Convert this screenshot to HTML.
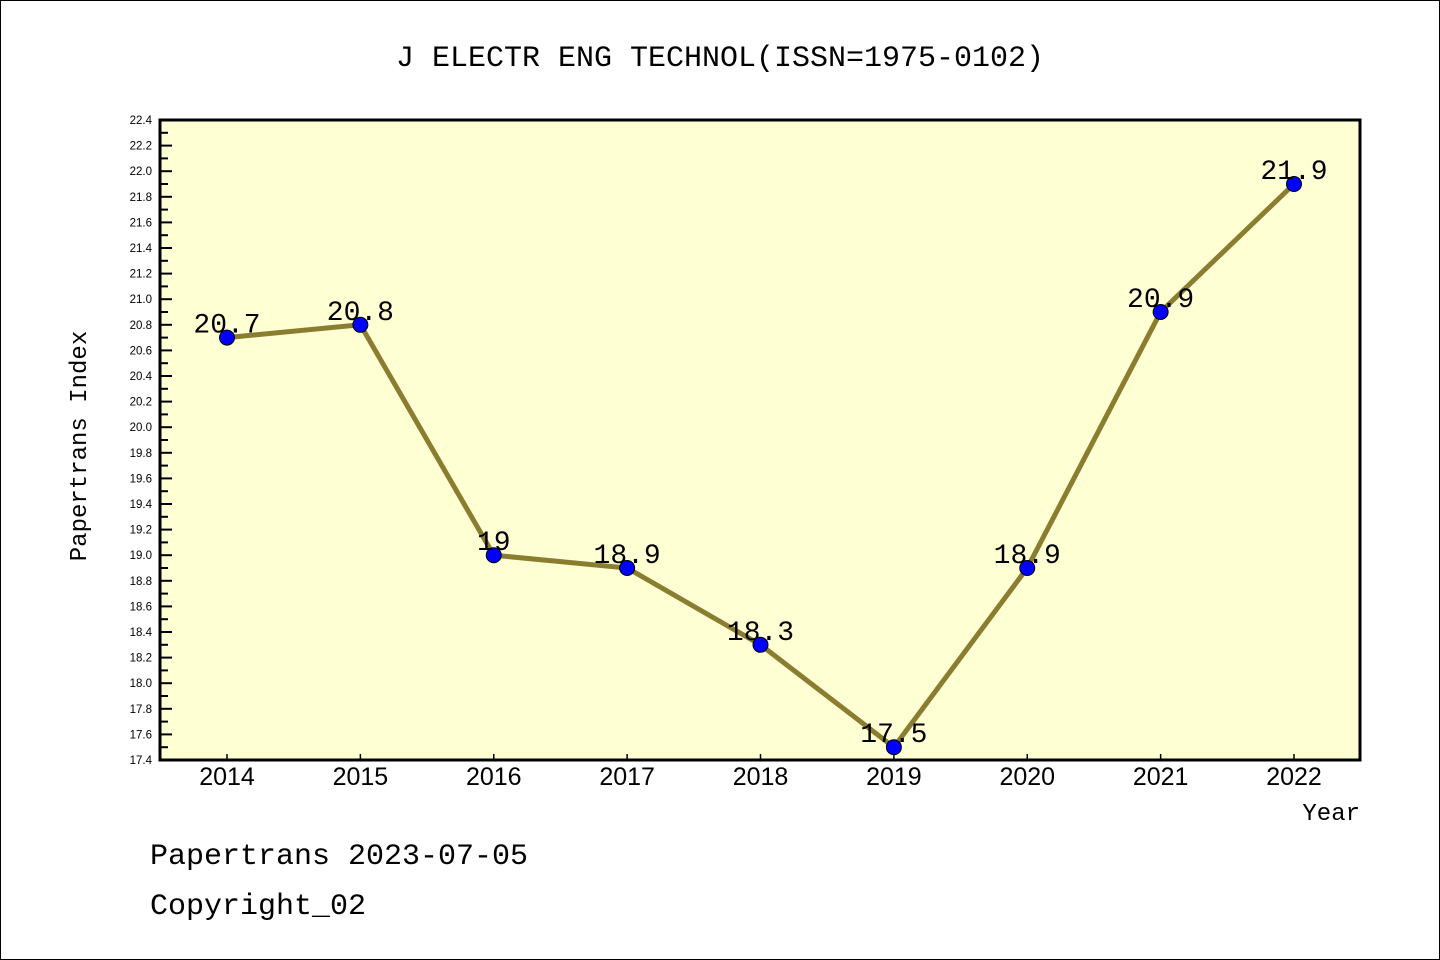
<!DOCTYPE html>
<html><head><meta charset="utf-8"><style>
html,body{margin:0;padding:0;background:#fff}
svg{display:block}
</style></head><body>
<svg id="chart" width="1440" height="960" xmlns="http://www.w3.org/2000/svg" font-family="Liberation Mono, DejaVu Sans Mono, monospace">
<rect x="0.5" y="0.5" width="1439" height="959" fill="#fff" stroke="#000" stroke-width="1"/>
<text x="720" y="66" text-anchor="middle" font-size="30">J ELECTR ENG TECHNOL(ISSN=1975-0102)</text>
<rect x="160" y="120" width="1200" height="640" fill="#ffffd4"/>
<g id="yaxis"></g>
<g id="xaxis"></g>
<g id="series"></g>
<rect x="160" y="120" width="1200" height="640" fill="none" stroke="#000" stroke-width="3"/>
<text x="86" y="446" text-anchor="middle" font-size="24" transform="rotate(-90 86 446)">Papertrans Index</text>
<text x="1360" y="820" text-anchor="end" font-size="24">Year</text>
<text x="150" y="864" font-size="30">Papertrans 2023-07-05</text>
<text x="150" y="914" font-size="30">Copyright_02</text>
</svg>
<script>
const years = [2014,2015,2016,2017,2018,2019,2020,2021,2022];
const values = [20.7,20.8,19,18.9,18.3,17.5,18.9,20.9,21.9];
const valueLabels = ["20.7","20.8","19","18.9","18.3","17.5","18.9","20.9","21.9"];
const yMin = 17.4, yMax = 22.4;
const NS = "http://www.w3.org/2000/svg";
function X(i){ return 227 + i*(1294-227)/(years.length-1); }
function Y(v){ return 760 - (v-yMin)/(yMax-yMin)*640; }
function mk(tag, attrs, parent){ const e=document.createElementNS(NS,tag); for(const k in attrs) e.setAttribute(k,attrs[k]); parent.appendChild(e); return e; }
const ya=document.getElementById('yaxis'), xa=document.getElementById('xaxis'), s=document.getElementById('series');
for(let k=0;k<=50;k++){
  const v=yMin+k*0.1, y=Y(v), major=k%2===0;
  const t=mk('line',{x1:160,x2:major?172:168,y1:y,y2:y,stroke:'#000','stroke-width':2},ya);
  
  
  if(major){
    const l=mk('text',{x:152,y:y+4,'text-anchor':'end','font-size':11.5,'font-family':'Liberation Sans, sans-serif'},ya);
    l.textContent=v.toFixed(1);
    
    
  }
}
years.forEach((yr,i)=>{
  const x=X(i);
  const t=mk('line',{x1:x,x2:x,y1:760,y2:754,stroke:'#000','stroke-width':1.5},xa);
  
  
  const l=mk('text',{x:x,y:785,'text-anchor':'middle','font-size':25,'font-family':'Liberation Sans, sans-serif'},xa);
  l.textContent=yr;
  
  
});
const pts=values.map((v,i)=>X(i)+','+Y(v)).join(' ');
const line=mk('polyline',{points:pts,fill:'none',stroke:'#8b7d30','stroke-width':5},s);


values.forEach((v,i)=>{
  const c=mk('circle',{cx:X(i),cy:Y(v),r:7.5,fill:'#0000ff',stroke:'#000','stroke-width':1},s);
  
  
  const l=mk('text',{x:X(i),y:Y(v)-5,'text-anchor':'middle','font-size':28},s);
  l.textContent=valueLabels[i];
  
  
});
</script>
</body></html>
